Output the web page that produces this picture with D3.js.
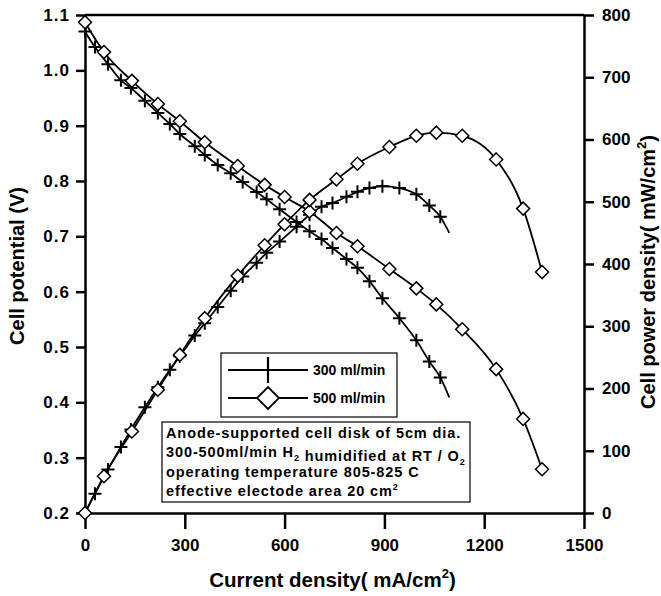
<!DOCTYPE html>
<html>
<head>
<meta charset="utf-8">
<script src="https://cdn.jsdelivr.net/npm/d3@7"></script>
<style>
  body { margin: 0; background: #fff; }
  svg { font-family: "Liberation Sans", Arial, sans-serif; font-weight: bold; }
</style>
</head>
<body>
<div class="chart"></div>
<script>
// 300 ml/min H2 (+ markers)
var current300 = [0, 30, 69, 108, 138, 180, 219, 255, 285, 330, 360, 399, 438, 474, 516, 546,
                  585, 636, 675, 711, 744, 786, 819, 855, 894, 945, 996, 1035, 1068, 1095];
var voltage300 = [1.070, 1.042, 1.011, 0.982, 0.968, 0.945, 0.923, 0.903, 0.885, 0.863, 0.847, 0.829,
                  0.814, 0.798, 0.780, 0.767, 0.749, 0.726, 0.709, 0.695, 0.679, 0.659, 0.643, 0.619,
                  0.588, 0.552, 0.512, 0.474, 0.445, 0.409];
var power300 = [0, 31, 70, 106, 134, 170, 202, 230, 252, 285, 305, 331, 357, 380, 402, 418,
                436, 460, 479, 492, 498, 508, 516, 522, 525, 522, 512, 494, 476, 450];

// 500 ml/min H2 (diamond markers)
var current500 = [0, 57, 141, 219, 285, 360, 459, 540, 600, 675, 756, 819, 915, 996, 1056, 1134, 1236, 1317, 1374];
var voltage500 = [1.087, 1.033, 0.981, 0.939, 0.908, 0.870, 0.827, 0.793, 0.771, 0.745, 0.706, 0.682,
                  0.641, 0.606, 0.577, 0.532, 0.460, 0.370, 0.279];
var power500 = [0, 59, 131, 198, 254, 313, 381, 430, 464, 503, 536, 561, 588, 606, 611, 606, 568, 489, 387];

var xTicks = [0, 300, 600, 900, 1200, 1500];
var voltTicks = [0.2, 0.3, 0.4, 0.5, 0.6, 0.7, 0.8, 0.9, 1.0, 1.1];
var powerTicks = [0, 100, 200, 300, 400, 500, 600, 700, 800];

var legendNames = ["300 ml/min", "500 ml/min"];
var noteLines = [
  ["Anode-supported cell disk of 5cm dia."],
  ["300-500ml/min H", {sub: "2"}, " humidified at RT / O", {sub: "2"}],
  ["operating temperature 805-825 C"],
  ["effective electode area 20 cm", {sup: "2"}]
];

var width = 661;
var height = 596;
var plotLeft = 85, plotRight = 584, plotTop = 15, plotBottom = 513;

var svg = d3.select(".chart")
            .append("svg")
              .attr("width", width)
              .attr("height", height);

var x = d3.scaleLinear().domain([0, 1500]).range([plotLeft, plotRight]);
var yV = d3.scaleLinear().domain([0.2, 1.1]).range([plotBottom, plotTop]);
var yP = d3.scaleLinear().domain([0, 800]).range([plotBottom, plotTop]);

function pairs(xs, ys) {
  return xs.map(function(d, i) { return [d, ys[i]]; });
}

var series = [
  { pts: pairs(current300, voltage300), y: yV, mark: "plus", skipLast: true },
  { pts: pairs(current300, power300), y: yP, mark: "plus", skipLast: true },
  { pts: pairs(current500, voltage500), y: yV, mark: "diamond", skipLast: false },
  { pts: pairs(current500, power500), y: yP, mark: "diamond", skipLast: false }
];

var plusPath = "M-6.5,0H6.5M0,-6.5V6.5";
var diamondPath = "M0,-6.5L6.5,0L0,6.5L-6.5,0Z";

// frame top line
svg.append("line")
   .attr("x1", plotLeft).attr("x2", plotRight)
   .attr("y1", plotTop).attr("y2", plotTop)
   .attr("stroke", "#000").attr("stroke-width", 2.5);

// axes
function styleAxis(g) {
  g.selectAll("path.domain").attr("stroke-width", 2.5);
  g.selectAll(".tick line").attr("stroke-width", 2.5);
  g.selectAll(".tick text").attr("font-size", "17px").attr("font-weight", "bold")
   .attr("font-family", "'Liberation Sans', Arial, sans-serif").attr("fill", "#000");
}

svg.append("g")
   .attr("transform", "translate(0," + plotBottom + ")")
   .call(d3.axisBottom(x).tickValues(xTicks).tickSize(16).tickSizeOuter(0).tickPadding(10)
         .tickFormat(d3.format("d")))
   .call(styleAxis);

svg.append("g")
   .attr("transform", "translate(" + plotLeft + ",0)")
   .call(d3.axisLeft(yV).tickValues(voltTicks).tickSize(9).tickSizeOuter(0).tickPadding(6)
         .tickFormat(d3.format(".1f")))
   .call(styleAxis)
   .selectAll(".tick text").attr("letter-spacing", "1px");

svg.append("g")
   .attr("transform", "translate(" + plotRight + ",0)")
   .call(d3.axisRight(yP).tickValues(powerTicks).tickSize(10).tickSizeOuter(0).tickPadding(8))
   .call(styleAxis);

// curves
series.forEach(function(s) {
  var line = d3.line()
    .x(function(d) { return x(d[0]); })
    .y(function(d) { return s.y(d[1]); })
    .curve(d3.curveMonotoneX);
  svg.append("path")
     .datum(s.pts)
     .attr("d", line)
     .attr("fill", "none")
     .attr("stroke", "#000")
     .attr("stroke-width", 1.8);
});

series.forEach(function(s) {
  var pts = s.skipLast ? s.pts.slice(0, -1) : s.pts;
  svg.append("g").selectAll("path")
     .data(pts)
     .enter()
     .append("path")
      .attr("transform", function(d) { return "translate(" + x(d[0]) + "," + s.y(d[1]) + ")"; })
      .attr("d", s.mark == "plus" ? plusPath : diamondPath)
      .attr("fill", s.mark == "plus" ? "none" : "#fff")
      .attr("stroke", "#000")
      .attr("stroke-width", s.mark == "plus" ? 2 : 1.5);
});

// legend
var legend = svg.append("g");
legend.append("rect")
      .attr("x", 221).attr("y", 353).attr("width", 176).attr("height", 64)
      .attr("fill", "#fff").attr("stroke", "#000").attr("stroke-width", 1.2);
legendNames.forEach(function(name, i) {
  var ly = 370 + i * 28;
  legend.append("line")
        .attr("x1", 228).attr("x2", 308).attr("y1", ly).attr("y2", ly)
        .attr("stroke", "#000").attr("stroke-width", 1.8);
  legend.append("path")
        .attr("transform", "translate(268," + ly + ")")
        .attr("d", i == 0 ? "M-13,0H13M0,-13V13" : "M0,-11L11,0L0,11L-11,0Z")
        .attr("fill", i == 0 ? "none" : "#fff")
        .attr("stroke", "#000").attr("stroke-width", i == 0 ? 2.2 : 1.8);
  legend.append("text")
        .attr("x", 313).attr("y", ly + 5)
        .attr("font-size", "14px")
        .text(name);
});

// note box
var note = svg.append("g");
note.append("rect")
    .attr("x", 162).attr("y", 422).attr("width", 308).attr("height", 80)
    .attr("fill", "#fff").attr("stroke", "#000").attr("stroke-width", 1.2);
noteLines.forEach(function(parts, i) {
  var t = note.append("text")
      .attr("x", 166).attr("y", 438 + i * 19.3)
      .attr("font-size", "14.5px")
      .attr("letter-spacing", "0.9px");
  parts.forEach(function(p) {
    if (typeof p == "string") {
      t.append("tspan").text(p);
    } else if (p.sub) {
      t.append("tspan").attr("font-size", "9px").attr("dy", 4).text(p.sub);
      t.append("tspan").attr("dy", -4).text("");
    } else {
      t.append("tspan").attr("font-size", "9px").attr("dy", -6).text(p.sup);
      t.append("tspan").attr("dy", 6).text("");
    }
  });
});

// axis titles
var xt = svg.append("text")
   .attr("x", (plotLeft + plotRight) / 2 - 2).attr("y", 587)
   .attr("text-anchor", "middle").attr("font-size", "20.5px");
xt.append("tspan").text("Current density( mA/cm");
xt.append("tspan").attr("font-size", "13px").attr("dy", -9).text("2");
xt.append("tspan").attr("dy", 9).text(")");

svg.append("text")
   .attr("transform", "translate(24," + ((plotTop + plotBottom) / 2 + 2) + ") rotate(-90)")
   .attr("text-anchor", "middle").attr("font-size", "20px")
   .text("Cell potential (V)");

var yt = svg.append("text")
   .attr("transform", "translate(655," + ((plotTop + plotBottom) / 2 + 8) + ") rotate(-90)")
   .attr("text-anchor", "middle").attr("font-size", "20px");
yt.append("tspan").text("Cell power density( mW/cm");
yt.append("tspan").attr("font-size", "13px").attr("dy", -9).text("2");
yt.append("tspan").attr("dy", 9).text(")");
</script>
</body>
</html>
